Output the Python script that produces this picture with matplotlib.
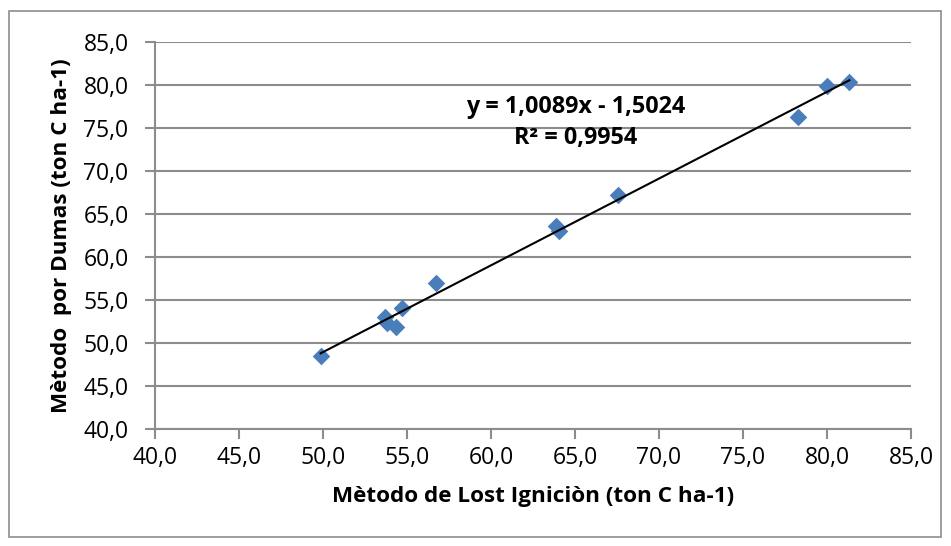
import matplotlib
matplotlib.use('Agg')
import matplotlib.pyplot as plt
from matplotlib.patches import Rectangle
from matplotlib.ticker import FuncFormatter, MultipleLocator

# Carbon stock measured by both methods (ton C ha-1)
lost_ignicion = [49.86, 53.69, 53.83, 54.33, 54.68, 56.71, 63.85, 64.07, 67.58, 78.25, 79.98, 81.33]
dumas = [48.52, 53.06, 52.29, 51.90, 54.03, 57.01, 63.60, 63.06, 67.21, 76.30, 79.88, 80.38]

# linear trend reported on the chart
slope = 1.0089
intercept = -1.5024
r_squared = 0.9954

plt.rcParams['font.family'] = ['Open Sans', 'DejaVu Sans']

fig = plt.figure(figsize=(9.51, 5.46), dpi=100)
ax = fig.add_axes([155 / 951, 1 - 429 / 546, (911 - 155) / 951, (429 - 42) / 546])

grid_color = '#8c8c8c'
ax.scatter(lost_ignicion, dumas, marker='D', s=80, color='#4a7ebb', zorder=3, linewidths=0)

x0, x1 = min(lost_ignicion), max(lost_ignicion)
ax.plot([x0, x1], [slope * x0 + intercept, slope * x1 + intercept], color='black', lw=1.5, zorder=4)

ax.set_xlim(40, 85)
ax.set_ylim(40, 85)
ax.xaxis.set_major_locator(MultipleLocator(5))
ax.yaxis.set_major_locator(MultipleLocator(5))
comma = FuncFormatter(lambda v, _: f'{v:.1f}'.replace('.', ','))
ax.xaxis.set_major_formatter(comma)
ax.yaxis.set_major_formatter(comma)
ax.grid(axis='y', color=grid_color, lw=1.5)
ax.set_axisbelow(True)
for side in ('top', 'right'):
    ax.spines[side].set_visible(False)
for side in ('left', 'bottom'):
    ax.spines[side].set_color(grid_color)
    ax.spines[side].set_linewidth(1.5)
ax.tick_params(direction='out', length=7, width=1.5, color=grid_color, labelsize=16.5)
ax.tick_params(axis='x', pad=5)
ax.tick_params(axis='y', pad=12)

ax.set_xlabel('Mètodo de Lost Igniciòn (ton C ha-1)', fontsize=16.2, fontweight='bold', labelpad=12)
ax.set_ylabel('Mètodo  por Dumas (ton C ha-1)', fontsize=16.2, fontweight='bold', labelpad=8)

sign = '-' if intercept < 0 else '+'
eq = f'y = {slope:.4f}x {sign} {abs(intercept):.4f}'.replace('.', ',')
r2 = f'R² = {r_squared:.4f}'.replace('.', ',')
ax.text(65.06, 77.44, eq, ha='center', va='center', fontsize=16.8, fontweight='bold')
ax.text(65.06, 73.84, r2, ha='center', va='center', fontsize=16.8, fontweight='bold')

fig.add_artist(Rectangle((9 / 951, 1 - 537 / 546), 932 / 951, 526 / 546, transform=fig.transFigure,
                         fill=False, edgecolor='#8c8c8c', lw=1.2))

fig.savefig('out.png', dpi=100)
